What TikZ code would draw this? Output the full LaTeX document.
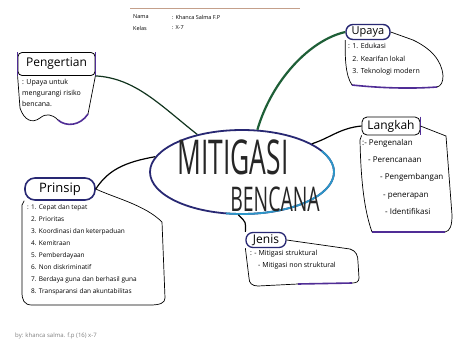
\documentclass[tikz,border=0pt]{standalone}
\usepackage{fontspec}
\setmainfont{Open Sans}
\usetikzlibrary{shapes.geometric}
\definecolor{navy}{RGB}{40,40,115}
\definecolor{purp}{RGB}{80,45,150}
\definecolor{tealb}{RGB}{45,150,200}
\definecolor{dgreen}{RGB}{30,95,55}
\definecolor{paper}{RGB}{170,120,90}
\begin{document}
\begin{tikzpicture}[x=1pt,y=-1pt,
  title/.style={draw=black, line width=0.8, rounded corners=4, inner sep=0, font=\fontsize{12}{12}\selectfont},
  body/.style={anchor=north west, align=left, inner sep=0, font=\fontsize{7}{11}\selectfont},
  outline/.style={black, line width=0.7},
  conn/.style={black, line width=1.2},
  accent/.style={purp, line width=1.6},
  hdr/.style={anchor=west, inner sep=0, font=\fontsize{5.5}{5.5}\selectfont}]
\useasboundingbox (0,0) rectangle (455,341);
\fill[white] (0,0) rectangle (455,341);

% header
\draw[paper!70, line width=0.8] (130,8) -- (300,8);
\node[hdr] (nama) at (133,17) {Nama};
\node[hdr] (namav) at (172,17) {: Khanca Salma F.P};
\node[hdr] (kelas) at (133,28) {Kelas};
\node[hdr] (kelasv) at (172,28) {: X-7};

% centre
\node[ellipse, draw=navy, line width=1.8, minimum width=184, minimum height=84, inner sep=0] (center) at (242,172) {};
\draw[tealb, line width=1.8] ([shift={(-30:92 and 42)}]center.center) arc[start angle=-30, end angle=100, x radius=92, y radius=42];
\node[inner sep=0, black!85] (t1) at (233,157) {\scalebox{0.55}[1]{\fontsize{48}{48}\selectfont MITIGASI}};
\node[inner sep=0, black!85] (t2) at (275,199) {\scalebox{0.57}[1]{\fontsize{34}{34}\selectfont BENCANA}};

% Pengertian
\node[title, minimum width=77, minimum height=23] (pengT) at (56.5,64) {Pengertian};
\draw[accent] (pengT.north west) -- (pengT.south west);
\draw[accent] (pengT.north east) -- (pengT.south east);
\node[body] (pengC) at (22,79) {: Upaya untuk\\mengurangi risiko\\bencana.};
\draw[outline] (pengT.south west) -- (20,108) .. controls (24,120) and (32,124) .. (40,118) .. controls (46,113) and (52,114) .. (58,120);
\draw[accent] (58,120) .. controls (66,127) and (80,126) .. (88,114);
\draw[outline] (88,114) -- (pengT.south east);

% Prinsip
\node[title, draw=navy, line width=1.6, rounded corners=10, minimum width=70, minimum height=22, font=\fontsize{13}{13}\selectfont] (prinT) at (60,189) {Prinsip};
\node[body, font=\fontsize{6.5}{12}\selectfont] (prinC) at (27,204) {: 1. Cepat dan tepat\\
\phantom{: }2. Prioritas\\
\phantom{: }3. Koordinasi dan keterpaduan\\
\phantom{: }4. Kemitraan\\
\phantom{: }5. Pemberdayaan\\
\phantom{: }6. Non diskriminatif\\
\phantom{: }7. Berdaya guna dan berhasil guna\\
\phantom{: }8. Transparansi dan akuntabilitas};
\draw[outline] (prinT.east) .. controls (115,198) and (145,205) .. (162,222) -- (165,298) .. controls (165,303) and (160,305) .. (150,305) -- (32,305) .. controls (24,305) and (22,300) .. (22,292) -- (22,205) -- (prinT.south west);

% Upaya
\node[title, draw=navy, line width=1.4, rounded corners=7, minimum width=44, minimum height=15, font=\fontsize{11}{11}\selectfont] (upT) at (368,32) {Upaya};
\node[body, font=\fontsize{7}{12.5}\selectfont] (upC) at (348,43) {: 1. Edukasi\\
\phantom{: }2. Kearifan lokal\\
\phantom{: }3. Teknologi modern};
\draw[outline] (upT.east) -- (413,40) .. controls (430,48) and (442,60) .. (443,76) .. controls (443,82) and (441,86) .. (437,87);
\draw[accent] (437,87) .. controls (410,89) and (380,88) .. (352,85);
\draw[outline] (352,85) .. controls (345,75) and (345,55) .. (upT.south west);

% Langkah
\node[title, rounded corners=5, minimum width=58, minimum height=18] (langT) at (391,126) {Langkah};
\draw[accent] (langT.north east) -- (langT.south east);
\node[body, font=\fontsize{8}{17.3}\selectfont] (langC) at (362,139) {:- Pengenalan\\
\hspace*{6pt}- Perencanaan\\
\hspace*{18pt}- Pengembangan\\
\hspace*{21pt}- penerapan\\
\hspace*{23pt}- Identifikasi};
\draw[outline] (langT.east) -- (446,136) -- (452,215) .. controls (452,226) and (450,231) .. (445,232);
\draw[accent] (445,232) -- (372,232);
\draw[outline] (372,232) .. controls (366,215) and (361,190) .. (360,140) -- (langT.south west);

% Jenis
\node[title, draw=navy, line width=1.3, rounded corners=7, minimum width=40, minimum height=15] (jenT) at (266,240) {Jenis};
\node[body, font=\fontsize{7}{12}\selectfont] (jenC) at (250,250) {: - Mitigasi struktural\\
\hspace*{8pt}- Mitigasi non struktural};
\draw[outline] (jenT.east) -- (350,249) .. controls (356,251) and (358,255) .. (358,262) -- (359,278) .. controls (359,282) and (356,283) .. (352,283);
\draw[accent] (352,283) -- (298,284);
\draw[outline] (298,284) -- (258,286) .. controls (252,286) and (249,283) .. (249,278) -- (jenT.south west);

% connectors
\draw[conn, dgreen!55!black] (pengT.south east) .. controls (135,78) and (160,105) .. (center.140);
\draw[conn] (prinT.east) .. controls (108,170) and (125,162) .. (center.170);
\draw[conn, dgreen, line width=2.2] (upT.west) .. controls (310,40) and (272,80) .. (center.70);
\draw[conn] (langT.west) .. controls (340,128) and (330,138) .. (center.22);
\draw[conn] (center.265) .. controls (246,222) .. (jenT.north west);

% credit
\node[anchor=west, inner sep=0, font=\fontsize{6}{6}\selectfont, gray] (credit) at (15,336) {by: khanca salma. f.p (16) x-7};
\end{tikzpicture}
\end{document}
